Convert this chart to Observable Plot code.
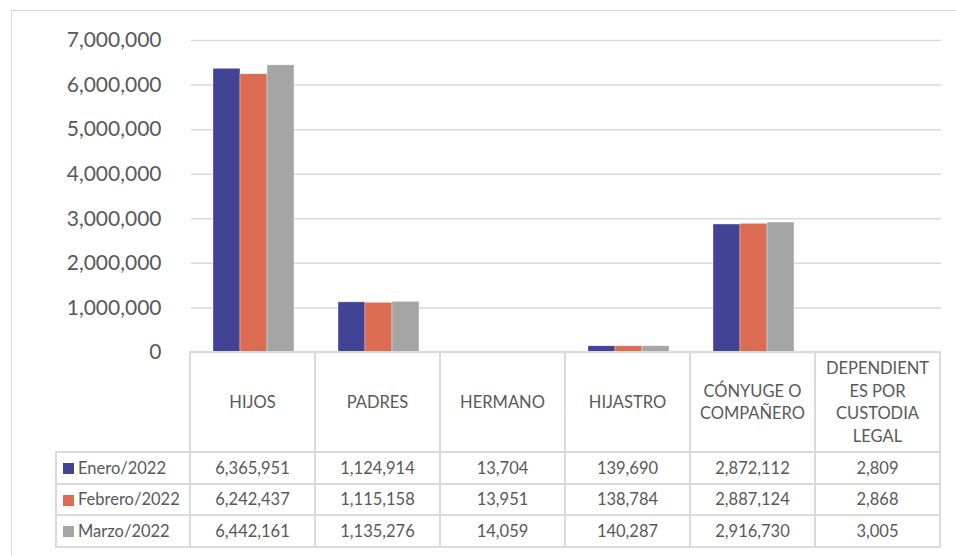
<!DOCTYPE html>
<html>
<head>
<meta charset="utf-8">
<script src="https://cdn.jsdelivr.net/npm/d3@7"></script>
<script src="https://cdn.jsdelivr.net/npm/@observablehq/plot@0.6"></script>
<style>
  html, body { margin: 0; padding: 0; background: #fff; overflow: hidden; width: 956px; height: 556px; }
  body { font-family: Lato, "Open Sans", sans-serif; color: #595959; position: relative; }
  #frame { position: absolute; left: 11px; top: 10px; width: 1000px; height: 600px;
           border-left: 1.5px solid #d9d9d9; border-top: 1.5px solid #d9d9d9; }
  #chart { position: absolute; left: 0; top: 0; }
  #chart svg { background: none; }
  #tbl { position: absolute; border-collapse: collapse; table-layout: fixed; font-size: 16.5px; color: #595959; }
  #tbl td { border: 2px solid #dadada; text-align: center; vertical-align: middle; padding: 0; line-height: 22.5px; white-space: pre-line; }
  #tbl td.empty { border-left: none; border-top: none; border-bottom-width: 2px; }
  #tbl td.leg { text-align: left; padding-left: 6px; white-space: nowrap; }
  .key { display: inline-block; width: 11px; height: 11px; margin-right: 4px; vertical-align: -0.5px; }
</style>
</head>
<body>
<div id="frame"></div>
<div id="chart"></div>
<script>
// ---- data ----
const categories = ["HIJOS", "PADRES", "HERMANO", "HIJASTRO", "CÓNYUGE O COMPAÑERO", "DEPENDIENTES POR CUSTODIA LEGAL"];
const categoryLabels = ["HIJOS", "PADRES", "HERMANO", "HIJASTRO", "CÓNYUGE O\nCOMPAÑERO", "DEPENDIENT\nES POR\nCUSTODIA\nLEGAL"];
const series = ["Enero/2022", "Febrero/2022", "Marzo/2022"];
const enero   = [6365951, 1124914, 13704, 139690, 2872112, 2809];
const febrero = [6242437, 1115158, 13951, 138784, 2887124, 2868];
const marzo   = [6442161, 1135276, 14059, 140287, 2916730, 3005];
const yTicks  = [0, 1000000, 2000000, 3000000, 4000000, 5000000, 6000000, 7000000];
const colors  = ["#434395", "#db6b51", "#a5a5a5"];

const seriesValues = [enero, febrero, marzo];
const data = [];
series.forEach((s, i) => categories.forEach((c, j) => data.push({series: s, category: c, value: seriesValues[i][j]})));

const fmt = d3.format(",");

const chart = Plot.plot({
  width: 956,
  height: 372,
  marginLeft: 190,
  marginRight: 14,
  marginTop: 40,
  marginBottom: 20,
  style: {fontFamily: "Lato, 'Open Sans', sans-serif", fontSize: "21px", color: "#595959", background: "none", overflow: "visible"},
  fx: {domain: categories, padding: 0, axis: null, label: null},
  x: {domain: series, paddingInner: 0, paddingOuter: 0.75, axis: null, label: null},
  y: {domain: [0, 7000000], label: null},
  color: {domain: series, range: colors},
  marks: [
    Plot.gridY(yTicks, {stroke: "#d9d9d9", strokeOpacity: 1, strokeWidth: 1.5}),
    Plot.axisY({ticks: yTicks, tickFormat: fmt, tickSize: 0, tickPadding: 30, label: null, fill: "#595959", fontSize: 21}),
    Plot.barY(data, {fx: "category", x: "series", y: "value", fill: "series", stroke: "#ffffff", strokeWidth: 0.6, strokeOpacity: 0.6})
  ]
});
document.getElementById("chart").appendChild(chart);

// ---- data table, aligned with the fx bands ----
const fxs = chart.scale("fx");
const yScale = chart.scale("y");
const step = fxs.step;
const tableLeft = 56;
const firstCol = 190 - tableLeft;
const table = document.createElement("table");
table.id = "tbl";
table.style.left = (tableLeft - 1) + "px";
table.style.top = (yScale.apply(0) - 1) + "px";
table.style.width = (firstCol + step * categories.length) + "px";
const colgroup = document.createElement("colgroup");
[firstCol, ...categories.map(() => step)].forEach(w => {
  const col = document.createElement("col");
  col.style.width = w + "px";
  colgroup.appendChild(col);
});
table.appendChild(colgroup);

const head = document.createElement("tr");
head.style.height = "100px";
const e = document.createElement("td"); e.className = "empty"; head.appendChild(e);
categoryLabels.forEach(l => { const td = document.createElement("td"); td.textContent = l; head.appendChild(td); });
table.appendChild(head);

series.forEach((s, i) => {
  const tr = document.createElement("tr");
  tr.style.height = "31.7px";
  const lg = document.createElement("td");
  lg.className = "leg";
  const key = document.createElement("span");
  key.className = "key";
  key.style.background = colors[i];
  lg.appendChild(key);
  lg.appendChild(document.createTextNode(s));
  tr.appendChild(lg);
  seriesValues[i].forEach(v => { const td = document.createElement("td"); td.textContent = fmt(v); tr.appendChild(td); });
  table.appendChild(tr);
});
document.body.appendChild(table);
</script>
</body>
</html>
